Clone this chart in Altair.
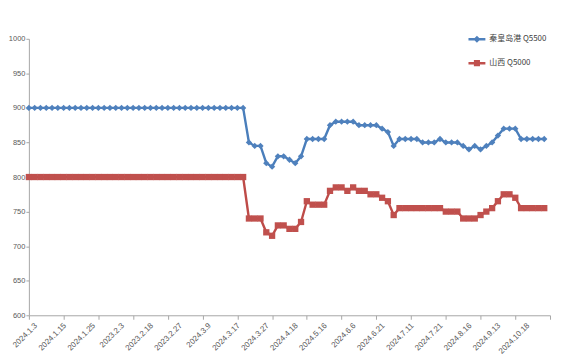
import json
import altair as alt
import pandas as pd

series_names = ["秦皇岛港 Q5500", "山西 Q5000"]

qhd_q5500 = [
    900, 900, 900, 900, 900, 900, 900, 900, 900, 900,
    900, 900, 900, 900, 900, 900, 900, 900, 900, 900,
    900, 900, 900, 900, 900, 900, 900, 900, 900, 900,
    900, 900, 900, 900, 900, 900, 900, 900,
    850, 845, 845, 820, 815, 830, 830, 825, 820, 830,
    855, 855, 855, 855, 875, 880, 880, 880, 880, 875,
    875, 875, 875, 870, 865, 845, 855, 855, 855, 855,
    850, 850, 850, 855, 850, 850, 850, 845, 840, 845,
    840, 845, 850, 860, 870, 870, 870, 855, 855, 855,
    855, 855,
]

shanxi_q5000 = [
    800, 800, 800, 800, 800, 800, 800, 800, 800, 800,
    800, 800, 800, 800, 800, 800, 800, 800, 800, 800,
    800, 800, 800, 800, 800, 800, 800, 800, 800, 800,
    800, 800, 800, 800, 800, 800, 800, 800,
    740, 740, 740, 720, 715, 730, 730, 725, 725, 735,
    765, 760, 760, 760, 780, 785, 785, 780, 785, 780,
    780, 775, 775, 770, 765, 745, 755, 755, 755, 755,
    755, 755, 755, 755, 750, 750, 750, 740, 740, 740,
    745, 750, 755, 765, 775, 775, 770, 755, 755, 755,
    755, 755,
]

x_labels = [
    "2024.1.3", "2024.1.15", "2024.1.25", "2023.2.3", "2023.2.18", "2023.2.27",
    "2024.3.9", "2024.3.17", "2024.3.27", "2024.4.18", "2024.5.16", "2024.6.6",
    "2024.6.21", "2024.7.11", "2024.7.21", "2024.8.16", "2024.9.13", "2024.10.18",
]

y_ticks = [600, 650, 700, 750, 800, 850, 900, 950, 1000]

line_colors = ["#4A7EBB", "#BE4B48"]
marker_colors = ["#4F81BD", "#C0504D"]
marker_shapes = ["diamond", "square"]
legend_shapes = [
    "M-1,-0.15H1V0.15H-1Z M0,-0.42L0.42,0L0,0.42L-0.42,0Z",
    "M-1,-0.15H1V0.15H-1Z M-0.36,-0.36H0.36V0.36H-0.36Z",
]

rows = []
for name, vals in zip(series_names, [qhd_q5500, shanxi_q5000]):
    for i, v in enumerate(vals):
        rows.append({"idx": i, "series": name, "value": v})
df = pd.DataFrame(rows)

n_cat = 90
label_step = 5
tick_step = 6
axis_values = sorted(set(range(0, label_step * len(x_labels), label_step)) | set(range(0, n_cat + 1, tick_step)))
label_expr = (
    "datum.value % 5 === 0 && datum.value <= 85 ? "
    + json.dumps(x_labels, ensure_ascii=False)
    + "[datum.value / 5] : ''"
)

axis_gray = "#A6A6A6"
text_gray = "#595959"

x_enc = alt.X(
    "idx:Q",
    scale=alt.Scale(domain=[0, n_cat], nice=False, zero=False),
    axis=alt.Axis(
        values=axis_values,
        labelExpr=label_expr,
        labelAngle=-45,
        labelAlign="right",
        labelBaseline="middle",
        labelOffset=7,
        labelPadding=5,
        labelOverlap=False,
        labelFont="Liberation Sans",
        labelFontSize=8,
        labelColor=text_gray,
        tickOpacity={"condition": {"test": "datum.value % 6 === 0", "value": 1}, "value": 0},
        tickSize=4,
        tickColor=axis_gray,
        domainColor=axis_gray,
        grid=False,
        title=None,
    ),
)

y_enc = alt.Y(
    "value:Q",
    scale=alt.Scale(domain=[600, 1000], nice=False, zero=False),
    axis=alt.Axis(
        values=y_ticks,
        format="d",
        labelFont="Liberation Sans",
        labelFontSize=7.5,
        labelColor=text_gray,
        labelPadding=1,
        tickSize=3,
        tickColor=axis_gray,
        domainColor=axis_gray,
        grid=False,
        title=None,
    ),
)

base = alt.Chart(df)

lines = base.mark_line(strokeWidth=2.4).encode(
    x=x_enc,
    y=y_enc,
    color=alt.Color(
        "series:N",
        scale=alt.Scale(domain=series_names, range=line_colors),
        legend=None,
    ),
    detail="series:N",
)

points = base.mark_point(filled=True, opacity=1, size=40).encode(
    x=x_enc,
    y=y_enc,
    color=alt.Color(
        "series:N",
        scale=alt.Scale(domain=series_names, range=marker_colors),
        legend=None,
    ),
    shape=alt.Shape(
        "series:N",
        scale=alt.Scale(domain=series_names, range=marker_shapes),
        legend=None,
    ),
)

legend_props = dict(
    title=None,
    orient="none",
    legendX=441,
    legendY=-9,
    direction="vertical",
    symbolSize=289,
    rowPadding=10,
    labelOffset=3,
    labelFont="Noto Sans CJK SC",
    labelFontSize=8,
    labelColor="#404040",
)

legend_layer = base.transform_filter("false").mark_point(filled=True, opacity=1).encode(
    x=x_enc,
    y=y_enc,
    color=alt.Color(
        "series:N",
        scale=alt.Scale(domain=series_names, range=marker_colors),
        legend=alt.Legend(**legend_props),
    ),
    shape=alt.Shape(
        "series:N",
        scale=alt.Scale(domain=series_names, range=legend_shapes),
        legend=alt.Legend(**legend_props),
    ),
)

chart = (
    alt.layer(lines, points, legend_layer)
    .resolve_scale(color="independent", shape="independent")
    .properties(
        width=524,
        height=278,
        autosize=alt.AutoSizeParams(type="none"),
        padding={"left": 21, "top": 30, "right": 6, "bottom": 40},
        background="white",
    )
    .configure_view(stroke=None)
)

chart.save("out.html", embed_options={"renderer": "svg", "actions": False})
